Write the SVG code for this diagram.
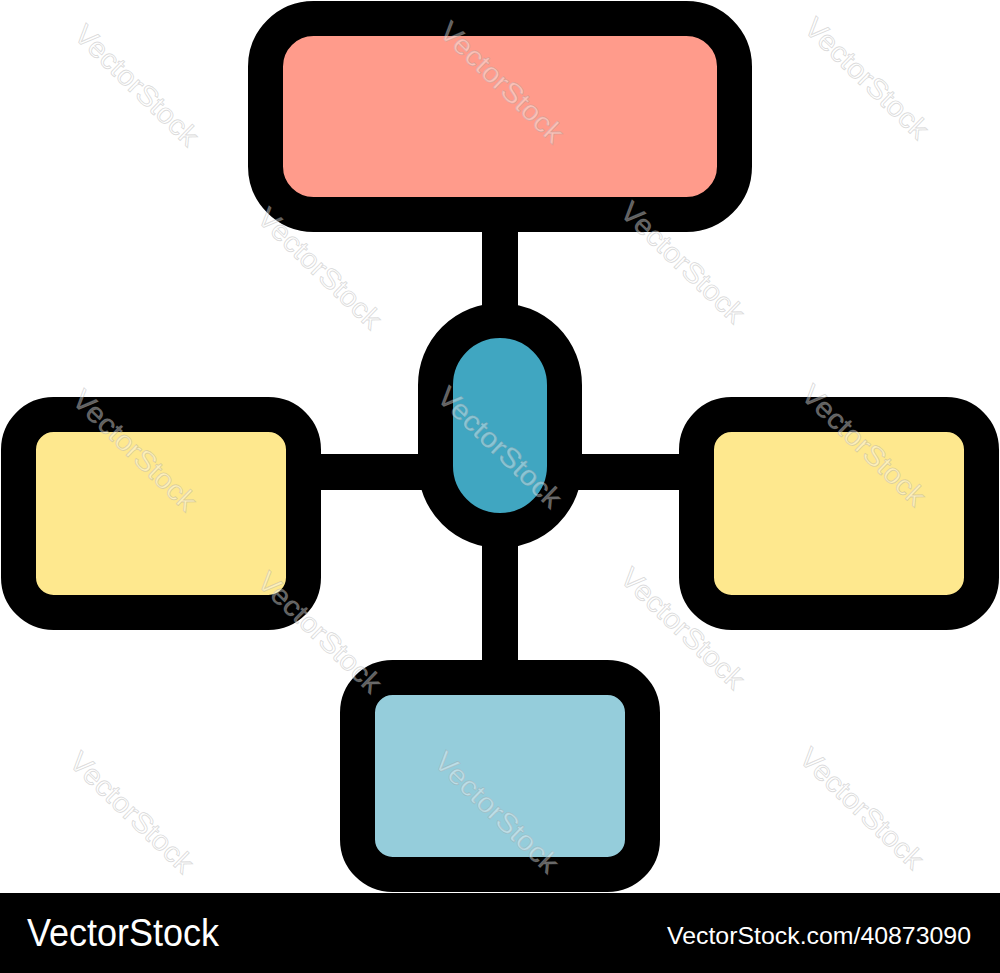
<svg xmlns="http://www.w3.org/2000/svg" width="1000" height="973" viewBox="0 0 1000 973">
<style>
.node{stroke:#000;stroke-width:35}
.conn{stroke:#000;stroke-width:36;fill:none}
.wm{font-family:"Liberation Sans",Arial,sans-serif;font-size:28px;fill:#fff;fill-opacity:0.4;stroke:#9a9a9a;stroke-opacity:0.35;stroke-width:0.9}
.bar{font-family:"Liberation Sans",Arial,sans-serif;fill:#fff}
</style>
<rect x="0" y="0" width="1000" height="973" fill="#fff"/>
<g id="connectors">
<line class="conn" x1="500" y1="200" x2="500" y2="330"/>
<line class="conn" x1="500" y1="520" x2="500" y2="690"/>
<line class="conn" x1="290" y1="472" x2="440" y2="472"/>
<line class="conn" x1="560" y1="472" x2="710" y2="472"/>
</g>
<g id="top-box"><rect class="node" x="265.5" y="18.5" width="469" height="196" rx="48" fill="#FF9B8B"/></g>
<g id="hub"><rect class="node" x="435.5" y="320.5" width="129" height="210" rx="64.5" fill="#40A6C1"/></g>
<g id="left-box"><rect class="node" x="18.5" y="414.5" width="285" height="198" rx="35" fill="#FEE88E"/></g>
<g id="right-box"><rect class="node" x="696.5" y="414.5" width="285" height="198" rx="35" fill="#FEE88E"/></g>
<g id="bottom-box"><rect class="node" x="357.5" y="677.5" width="285" height="197" rx="35" fill="#95CDDB"/></g>
<g id="watermarks">
<text class="wm" text-anchor="middle" textLength="160" lengthAdjust="spacingAndGlyphs" transform="translate(137,85) rotate(44)" y="10">VectorStock</text>
<text class="wm" text-anchor="middle" textLength="160" lengthAdjust="spacingAndGlyphs" transform="translate(502,82) rotate(44)" y="10">VectorStock</text>
<text class="wm" text-anchor="middle" textLength="160" lengthAdjust="spacingAndGlyphs" transform="translate(867,78) rotate(44)" y="10">VectorStock</text>
<text class="wm" text-anchor="middle" textLength="160" lengthAdjust="spacingAndGlyphs" transform="translate(320,268) rotate(44)" y="10">VectorStock</text>
<text class="wm" text-anchor="middle" textLength="160" lengthAdjust="spacingAndGlyphs" transform="translate(683,262) rotate(44)" y="10">VectorStock</text>
<text class="wm" text-anchor="middle" textLength="160" lengthAdjust="spacingAndGlyphs" transform="translate(135,450) rotate(44)" y="10">VectorStock</text>
<text class="wm" text-anchor="middle" textLength="160" lengthAdjust="spacingAndGlyphs" transform="translate(500,447) rotate(44)" y="10">VectorStock</text>
<text class="wm" text-anchor="middle" textLength="160" lengthAdjust="spacingAndGlyphs" transform="translate(864,445) rotate(44)" y="10">VectorStock</text>
<text class="wm" text-anchor="middle" textLength="160" lengthAdjust="spacingAndGlyphs" transform="translate(320,632) rotate(44)" y="10">VectorStock</text>
<text class="wm" text-anchor="middle" textLength="160" lengthAdjust="spacingAndGlyphs" transform="translate(683,628) rotate(44)" y="10">VectorStock</text>
<text class="wm" text-anchor="middle" textLength="160" lengthAdjust="spacingAndGlyphs" transform="translate(132,812) rotate(44)" y="10">VectorStock</text>
<text class="wm" text-anchor="middle" textLength="160" lengthAdjust="spacingAndGlyphs" transform="translate(497,812) rotate(44)" y="10">VectorStock</text>
<text class="wm" text-anchor="middle" textLength="160" lengthAdjust="spacingAndGlyphs" transform="translate(862,808) rotate(44)" y="10">VectorStock</text>
</g>
<g id="footer">
<rect x="0" y="893" width="1000" height="80" fill="#000"/>
<text class="bar" x="27" y="946" font-size="38" textLength="192" lengthAdjust="spacingAndGlyphs">VectorStock</text>
<text class="bar" x="667" y="944" font-size="24" textLength="304" lengthAdjust="spacingAndGlyphs">VectorStock.com/40873090</text>
</g>
</svg>
